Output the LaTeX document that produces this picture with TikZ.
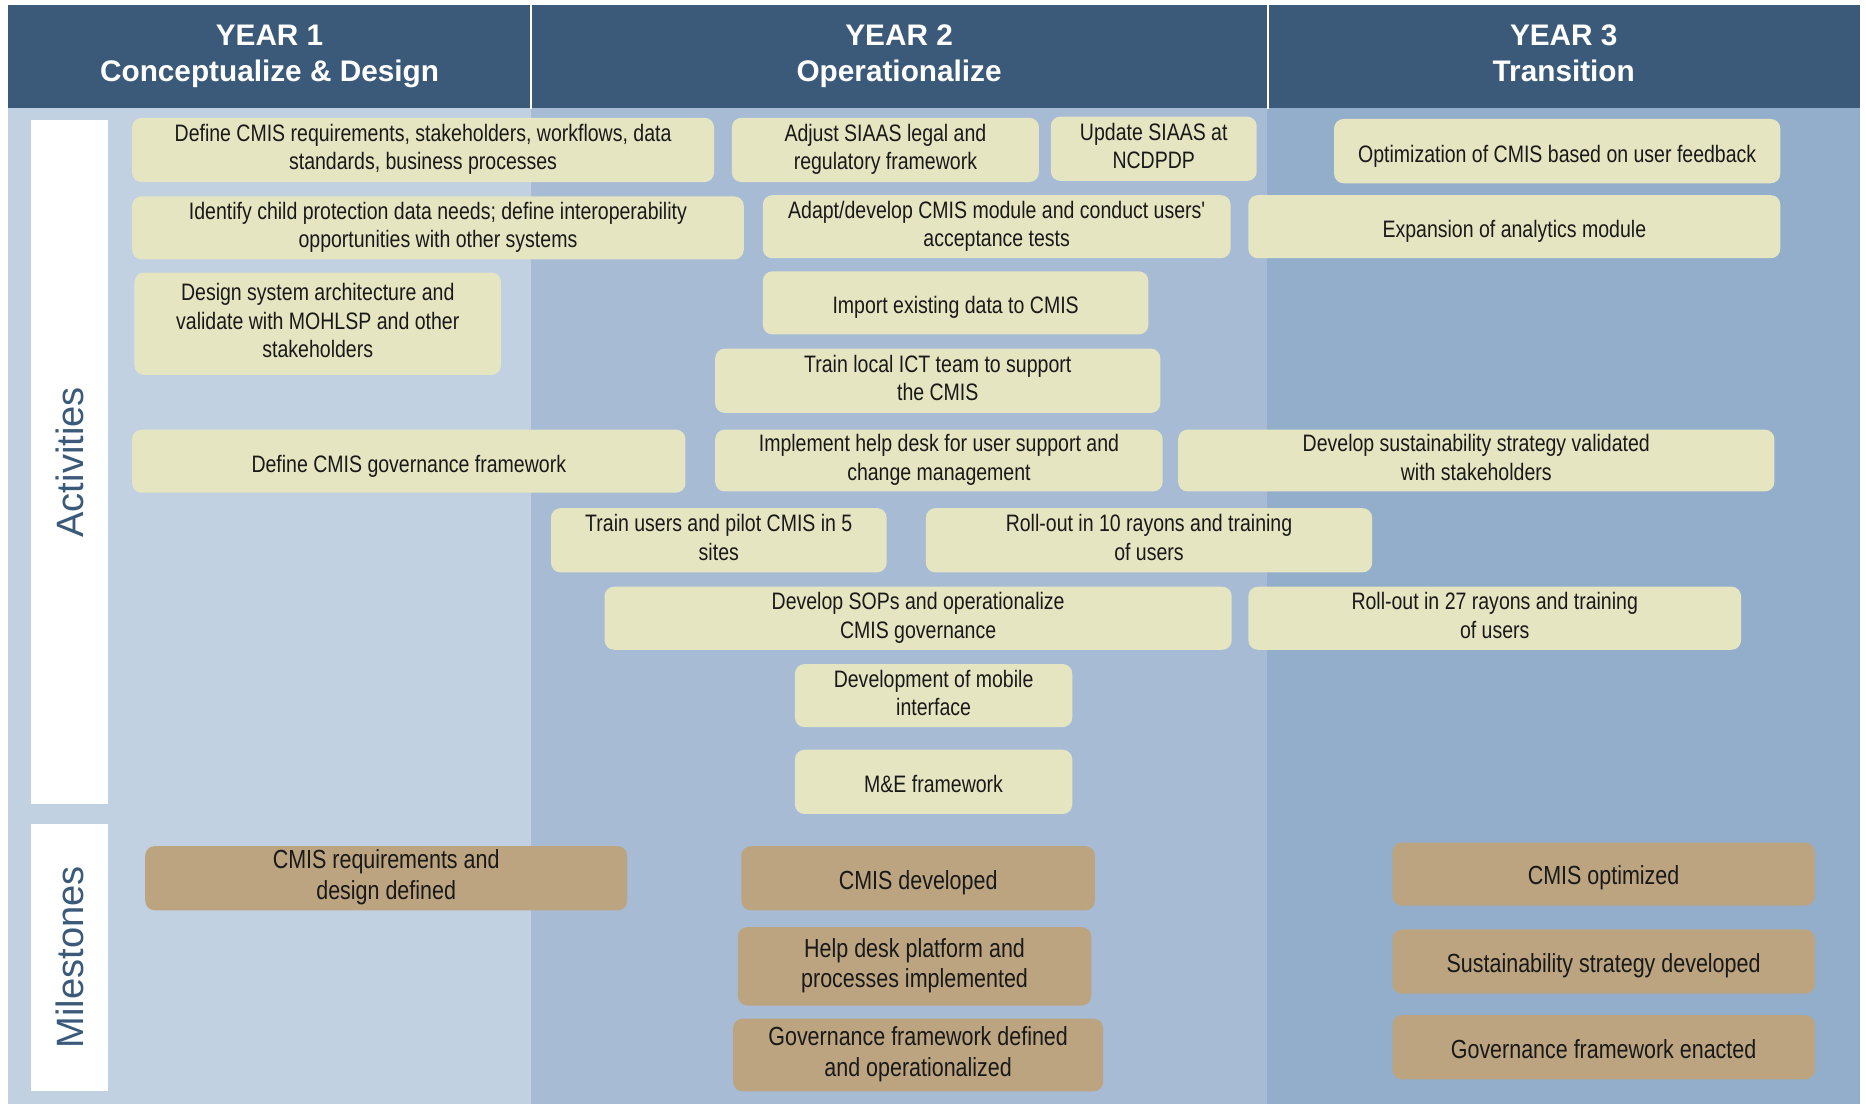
\documentclass[tikz,border=0pt]{standalone}
\usepackage{fontspec}
\setmainfont{Liberation Sans}
\newfontfamily\narrowfont[FakeStretch=0.82]{Liberation Sans}

\definecolor{headblue}{HTML}{3B5A7A}
\definecolor{yearone}{HTML}{C1D1E1}
\definecolor{yeartwo}{HTML}{A7BBD4}
\definecolor{yearthree}{HTML}{93AECB}
\definecolor{actfill}{HTML}{E5E5C2}
\definecolor{milefill}{HTML}{BBA47F}

\newcommand{\boxstrut}[2]{\rule[-#1\baselineskip]{0pt}{#2\baselineskip}}
\newcommand{\boxlines}[1]{\begin{tabular}{@{}c@{}}#1\end{tabular}}

\begin{document}
\begin{tikzpicture}[x=0.5pt, y=-0.5pt,
    colbg/.style={inner sep=0pt, minimum height=418.5pt},
    head/.style={fill=headblue, inner sep=0pt, minimum height=43.5pt, text=white, align=center,
      font=\fontsize{12.5}{15}\selectfont\bfseries},
    sidebox/.style={fill=white, inner sep=0pt, minimum width=32.5pt},
    sidelabel/.style={rotate=90, text=headblue, font=\fontsize{16}{19}\selectfont},
    act/.style={fill=actfill, rounded corners=4pt, inner sep=0pt, align=center,
      text=black!90, font=\narrowfont\fontsize{10}{12}\selectfont,
      execute at begin node=\boxstrut{0.25}{1.27}, execute at end node=\boxstrut{0.25}{1.27}},
    mile/.style={fill=milefill, rounded corners=4pt, inner sep=0pt, align=center,
      text=black!90, font=\narrowfont\fontsize{11}{13}\selectfont,
      execute at begin node=\boxstrut{0.25}{1.2}, execute at end node=\boxstrut{0.25}{1.2}}]
    \useasboundingbox (0,0) rectangle (1568,930);

    \node[colbg, fill=yearone, minimum width=219.5pt] (col1) at (226.5,509.5) {};
    \node[colbg, fill=yeartwo, minimum width=309.5pt] (col2) at (755.5,509.5) {};
    \node[colbg, fill=yearthree, minimum width=249pt] (col3) at (1314,509.5) {};

    \node[head, minimum width=219.5pt] (head1) at (226.5,47.5) {\boxlines{YEAR 1\\Conceptualize \& Design}};
    \node[head, minimum width=309.5pt] (head2) at (755.5,47.5) {\boxlines{YEAR 2\\Operationalize}};
    \node[head, minimum width=249pt] (head3) at (1314,47.5) {\boxlines{YEAR 3\\Transition}};
    \draw[white, line width=1pt] (head1.north east) -- (head1.south east);
    \draw[white, line width=1pt] (head2.north east) -- (head2.south east);

    \node[sidebox, minimum height=287.5pt] (actside) at (58.5,388.5) {};
    \node[sidelabel] (actlabel) at (actside.center) {Activities};
    \node[sidebox, minimum height=112.5pt] (mileside) at (58.5,804.5) {};
    \node[sidelabel] (milelabel) at (mileside.center) {Milestones};

    \node[act, minimum width=244.5pt, minimum height=27pt] (a1) at (355.5,126) {\boxlines{Define CMIS requirements, stakeholders, workflows, data\\standards, business processes}};
    \node[act, minimum width=129pt, minimum height=27pt] (a2) at (744,126) {\boxlines{Adjust SIAAS legal and\\regulatory framework}};
    \node[act, minimum width=86.5pt, minimum height=27pt] (a3) at (969.5,125) {\boxlines{Update SIAAS at\\NCDPDP}};
    \node[act, minimum width=187.5pt, minimum height=27pt] (a4) at (1308.5,127) {Optimization of CMIS based on user feedback};
    \node[act, minimum width=257pt, minimum height=26.5pt] (a5) at (368,191.5) {\boxlines{Identify child protection data needs; define interoperability\\opportunities with other systems}};
    \node[act, minimum width=196.5pt, minimum height=26.5pt] (a6) at (837.5,190.5) {\boxlines{Adapt/develop CMIS module and conduct users'\\acceptance tests}};
    \node[act, minimum width=223.5pt, minimum height=26.5pt] (a7) at (1272.5,190.5) {Expansion of analytics module};
    \node[act, minimum width=154pt, minimum height=43pt] (a8) at (267,272) {\boxlines{Design system architecture and\\validate with MOHLSP and other\\stakeholders}};
    \node[act, minimum width=162pt, minimum height=26.5pt] (a9) at (803,254.5) {Import existing data to CMIS};
    \node[act, minimum width=187pt, minimum height=27pt] (a10) at (788,320) {\boxlines{Train local ICT team to support\\the CMIS}};
    \node[act, minimum width=232.5pt, minimum height=26.5pt] (a11) at (343.5,387.5) {Define CMIS governance framework};
    \node[act, minimum width=188pt, minimum height=26pt] (a12) at (789,387) {\boxlines{Implement help desk for user support and\\change management}};
    \node[act, minimum width=250.5pt, minimum height=26pt] (a13) at (1240.5,387) {\boxlines{Develop sustainability strategy validated\\with stakeholders}};
    \node[act, minimum width=141pt, minimum height=27pt] (a14) at (604,454) {\boxlines{Train users and pilot CMIS in 5\\sites}};
    \node[act, minimum width=187.5pt, minimum height=27pt] (a15) at (965.5,454) {\boxlines{Roll-out in 10 rayons and training\\of users}};
    \node[act, minimum width=263.5pt, minimum height=26.5pt] (a16) at (771.5,519.5) {\boxlines{Develop SOPs and operationalize\\CMIS governance}};
    \node[act, minimum width=207pt, minimum height=26.5pt] (a17) at (1256,519.5) {\boxlines{Roll-out in 27 rayons and training\\of users}};
    \node[act, minimum width=116.5pt, minimum height=26.5pt] (a18) at (784.5,584.5) {\boxlines{Development of mobile\\interface}};
    \node[act, minimum width=116.5pt, minimum height=27pt] (a19) at (784.5,657) {M\&E framework};

    \node[mile, minimum width=202.5pt, minimum height=27pt] (m1) at (324.5,738) {\boxlines{CMIS requirements and\\design defined}};
    \node[mile, minimum width=148.5pt, minimum height=27pt] (m2) at (771.5,738) {CMIS developed};
    \node[mile, minimum width=177.5pt, minimum height=26.5pt] (m3) at (1347.5,734.5) {CMIS optimized};
    \node[mile, minimum width=148.5pt, minimum height=33pt] (m4) at (768.5,812) {\boxlines{Help desk platform and\\processes implemented}};
    \node[mile, minimum width=177.5pt, minimum height=27pt] (m5) at (1347.5,808) {Sustainability strategy developed};
    \node[mile, minimum width=155.5pt, minimum height=30.5pt] (m6) at (771.5,886.5) {\boxlines{Governance framework defined\\and operationalized}};
    \node[mile, minimum width=177.5pt, minimum height=27pt] (m7) at (1347.5,880) {Governance framework enacted};
  \end{tikzpicture}
\end{document}
